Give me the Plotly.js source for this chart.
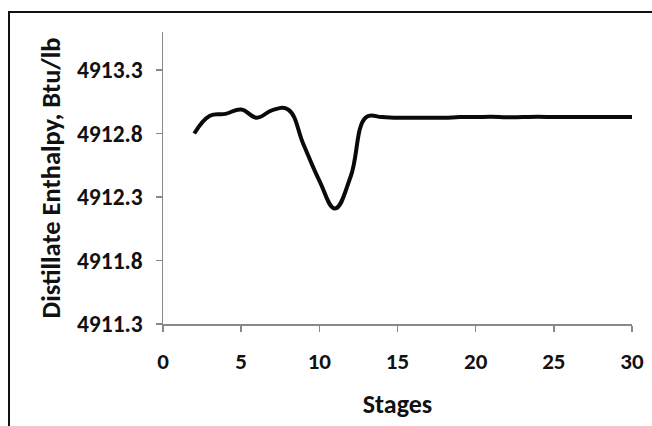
<!DOCTYPE html>
<html>
<head>
<meta charset="utf-8">
<script src="https://cdn.plot.ly/plotly-3.0.1.min.js"></script>
<style>
  html, body { margin: 0; padding: 0; background: #fff; }
  #wrap { position: relative; width: 652px; height: 426px; }
  #chart { width: 652px; height: 426px; }
  #frame { position: absolute; left: 8px; top: 11px; right: -4px; bottom: -4px;
           border-left: 2px solid #111; border-top: 2px solid #111; pointer-events: none; }
</style>
</head>
<body>
<div id="wrap">
  <div id="chart"></div>
  <div id="frame"></div>
</div>
<script>
const stages = [2, 3, 4, 5, 6, 7, 8, 9, 10, 11, 12, 13, 14, 15, 16, 17, 18, 19, 20, 21, 22, 23, 24, 25, 26, 27, 28, 29, 30];
const enthalpy = [4912.80, 4912.94, 4912.955, 4912.99, 4912.925, 4912.985, 4912.99, 4912.71, 4912.43, 4912.21, 4912.46, 4912.93, 4912.93,
                  4912.925, 4912.925, 4912.925, 4912.925, 4912.93, 4912.93, 4912.932, 4912.928, 4912.93, 4912.932, 4912.93, 4912.93, 4912.93, 4912.93, 4912.93, 4912.93];
const xTitle = "Stages";
const yTitle = "Distillate Enthalpy, Btu/lb";

const FONT = "Carlito, 'Liberation Sans Narrow', 'Open Sans', sans-serif";

const trace = {
  x: stages, y: enthalpy, type: 'scatter', mode: 'lines',
  line: { color: '#0a0a0a', width: 4, shape: 'spline', smoothing: 1.2 },
  hoverinfo: 'skip'
};

const layout = {
  width: 652, height: 426,
  margin: { l: 163, r: 20, t: 32, b: 102 },
  paper_bgcolor: '#fff', plot_bgcolor: '#fff',
  showlegend: false,
  font: { family: FONT, color: '#111', size: 20, weight: 'bold' },
  xaxis: {
    range: [0, 30], tick0: 0, dtick: 5,
    showline: true, linecolor: '#888', linewidth: 1.5,
    ticks: 'outside', ticklen: 6, tickcolor: '#888', tickwidth: 1.5,
    showgrid: false, zeroline: false,
    tickfont: { family: FONT, size: 23, color: '#111', weight: 'bold' },
    ticklabelstandoff: 10,
    title: { text: xTitle, font: { family: FONT, size: 26, color: '#111', weight: 'bold' }, standoff: 20 }
  },
  yaxis: {
    range: [4911.3, 4913.6], tick0: 4911.3, dtick: 0.5, tickformat: '.1f',
    showline: true, linecolor: '#888', linewidth: 1.5,
    ticks: 'outside', ticklen: 6, tickcolor: '#888', tickwidth: 1.5,
    showgrid: false, zeroline: false,
    tickfont: { family: FONT, size: 23.5, color: '#111', weight: 'bold' },
    ticklabelstandoff: 8,
    title: { text: yTitle, font: { family: FONT, size: 26.5, color: '#111', weight: 'bold' }, standoff: 8 }
  }
};

Plotly.newPlot('chart', [trace], layout, { displayModeBar: false, staticPlot: true });
</script>
</body>
</html>
